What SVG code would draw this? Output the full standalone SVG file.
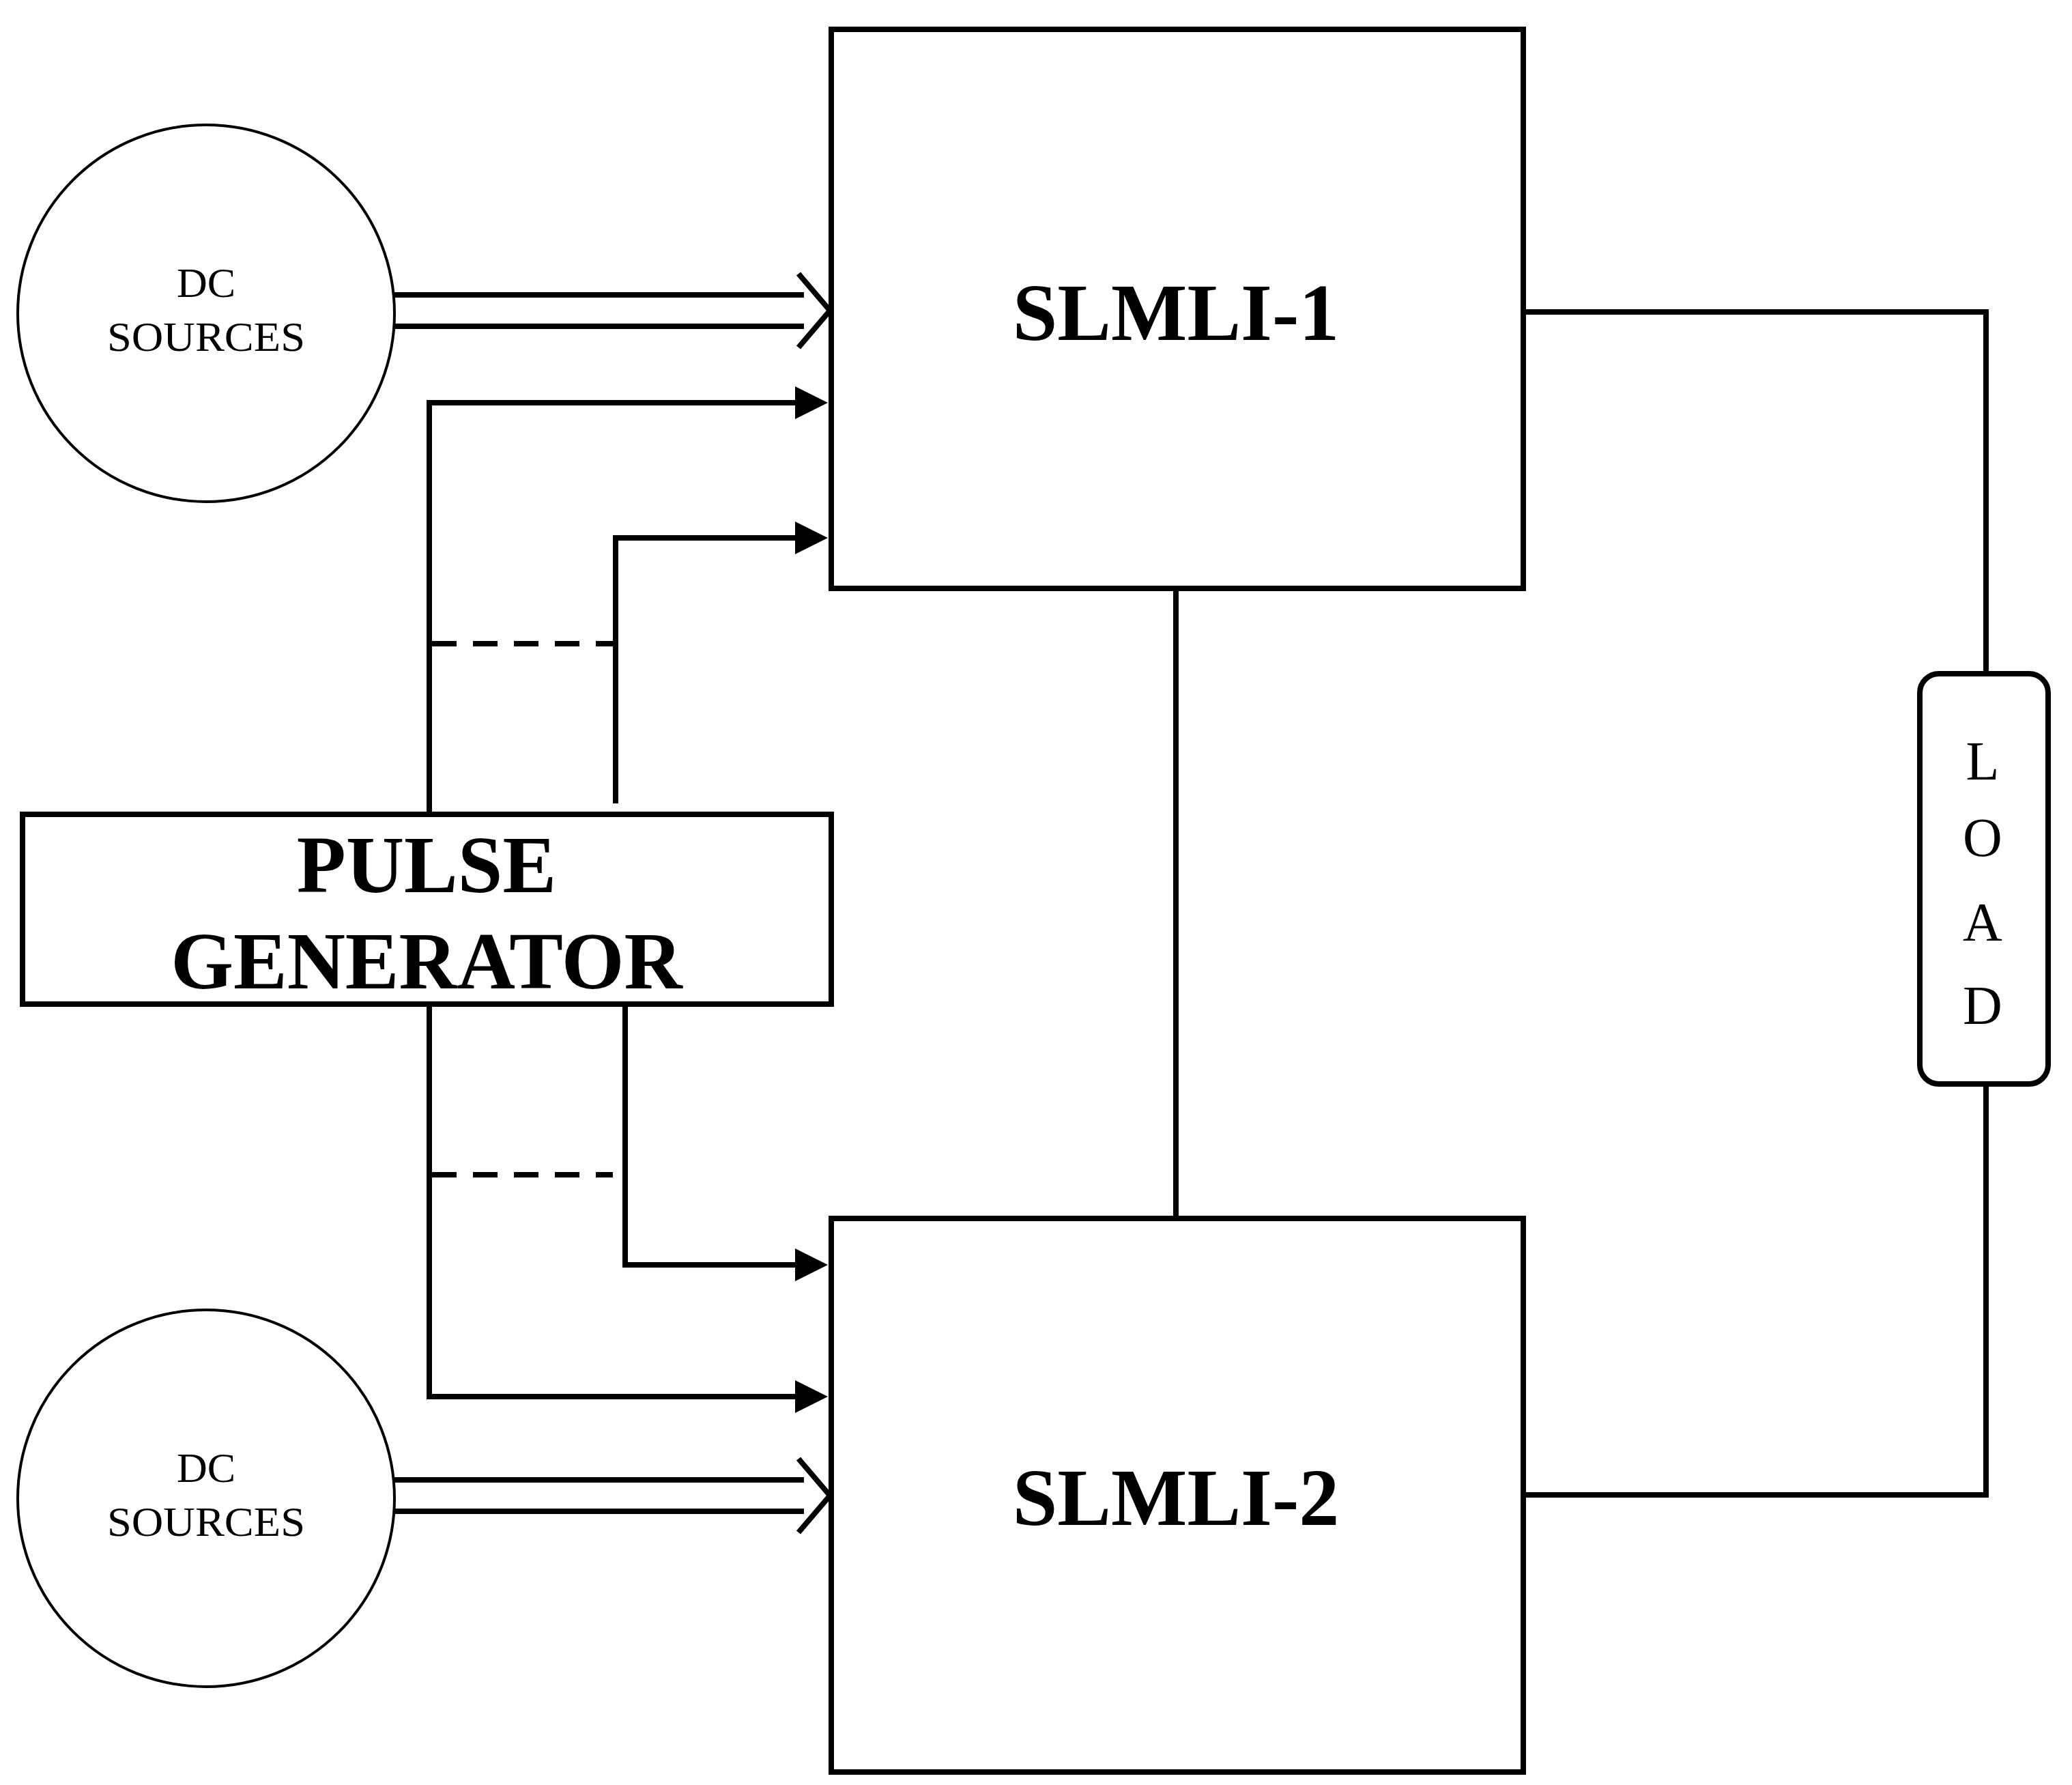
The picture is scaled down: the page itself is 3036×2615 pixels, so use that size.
<svg xmlns="http://www.w3.org/2000/svg" width="3036" height="2615" viewBox="0 0 3036 2615">
<style>
.box{fill:#fff;stroke:#000;stroke-width:8}
.w{fill:none;stroke:#000;stroke-width:8}
.c{fill:#fff;stroke:#000;stroke-width:4}
.t{font-family:"Liberation Serif",serif;fill:#000;text-anchor:middle}
.big{font-size:118px;font-weight:bold}
.small{font-size:62px}
</style>
<defs>
<marker id="ah" markerWidth="6" markerHeight="6" refX="5" refY="3" orient="auto" markerUnits="strokeWidth"><path d="M0,0 L6,3 L0,6 Z" fill="#000"/></marker>
</defs>
<rect width="3036" height="2615" fill="#fff"/>
<g id="connectors">
<polyline class="w" points="2232,457 2910,457 2910,987"/>
<polyline class="w" points="2910,1588 2910,2190 2232,2190"/>
<line class="w" x1="1723" y1="862" x2="1723" y2="1785"/>
<polyline class="w" points="629,1193 629,590 1205,590" marker-end="url(#ah)"/>
<polyline class="w" points="902,1177 902,788 1205,788" marker-end="url(#ah)"/>
<polyline class="w" points="629,1471 629,2046 1205,2046" marker-end="url(#ah)"/>
<polyline class="w" points="916,1471 916,1853 1205,1853" marker-end="url(#ah)"/>
<line class="w" x1="633" y1="943" x2="898" y2="943" stroke-dasharray="36,24"/>
<line class="w" x1="633" y1="1721" x2="898" y2="1721" stroke-dasharray="36,24"/>
<g class="w">
<line x1="577" y1="432" x2="1178" y2="432"/><line x1="577" y1="478" x2="1178" y2="478"/>
<polyline points="1170,401 1216,455 1170,509"/>
<line x1="577" y1="2168" x2="1178" y2="2168"/><line x1="577" y1="2214" x2="1178" y2="2214"/>
<polyline points="1170,2137 1216,2191 1170,2245"/>
</g>
</g>
<g id="dc1"><circle class="c" cx="302" cy="459" r="276"/>
<text class="t small" x="302" y="435">DC</text><text class="t small" x="302" y="514" textLength="290" lengthAdjust="spacingAndGlyphs">SOURCES</text></g>
<g id="dc2"><circle class="c" cx="302" cy="2195" r="276"/>
<text class="t small" x="302" y="2171">DC</text><text class="t small" x="302" y="2250" textLength="290" lengthAdjust="spacingAndGlyphs">SOURCES</text></g>
<g id="slmli1"><rect class="box" x="1218" y="43" width="1014" height="819"/>
<text class="t big" x="1723" y="498">SLMLI-1</text></g>
<g id="slmli2"><rect class="box" x="1218" y="1785" width="1014" height="811"/>
<text class="t big" x="1723" y="2234">SLMLI-2</text></g>
<g id="pulse"><rect class="box" x="33" y="1193" width="1185" height="278"/>
<text class="t big" x="625" y="1307">PULSE</text><text class="t big" x="625" y="1448">GENERATOR</text></g>
<g id="load"><rect class="box" x="2813" y="987" width="188" height="601" rx="28"/>
<text class="t" font-size="80" x="2905" y="1142">L</text>
<text class="t" font-size="80" x="2905" y="1254">O</text>
<text class="t" font-size="80" x="2905" y="1378">A</text>
<text class="t" font-size="80" x="2905" y="1500">D</text></g>
</svg>
